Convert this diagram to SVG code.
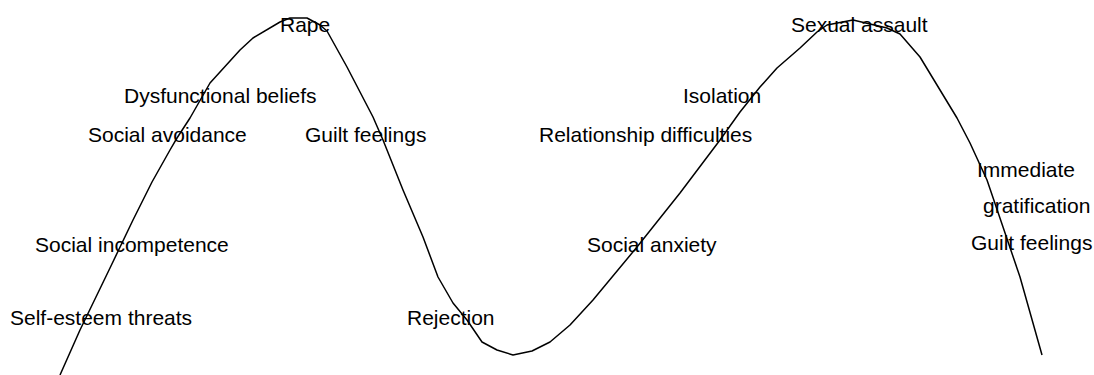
<svg xmlns="http://www.w3.org/2000/svg" width="1094" height="375" viewBox="0 0 1094 375">
<style>
text{font-family:"Liberation Sans",Arial,sans-serif;font-size:21px;fill:#000}
.curve{fill:none;stroke:#000;stroke-width:1.5;stroke-linejoin:round}
</style>
<rect width="1094" height="375" fill="#fff"/>
<g id="connectors">
<polyline class="curve" points="60,375 80,330 110,268 133,220 152,182 170,150 177,138 190,118 210,83 240,50 253,38 280,22 290,18 307,18 320,25 327,31 347,67 373,117 383,140 403,190 423,237 438,277 453,303 467,320 482,342 497,350 513,355 532,351 550,342 570,325 593,300 637,247 680,193 720,140 740,112 760,87 777,68 800,48 817,32 827,25 853,20 887,28 900,34 920,57 957,118 970,143 987,180 1003,227 1020,277 1042,355"/>
</g>
<g id="labels">
<text x="280" y="32">Rape</text>
<text x="124" y="103">Dysfunctional beliefs</text>
<text x="88" y="142">Social avoidance</text>
<text x="305" y="142">Guilt feelings</text>
<text x="35" y="252">Social incompetence</text>
<text x="10" y="325">Self-esteem threats</text>
<text x="407" y="325">Rejection</text>
<text x="587" y="252">Social anxiety</text>
<text x="539" y="142">Relationship difficulties</text>
<text x="683" y="103">Isolation</text>
<text x="791" y="32">Sexual assault</text>
<text x="977" y="177">Immediate</text>
<text x="983" y="213">gratification</text>
<text x="971" y="250">Guilt feelings</text>
</g>
</svg>
